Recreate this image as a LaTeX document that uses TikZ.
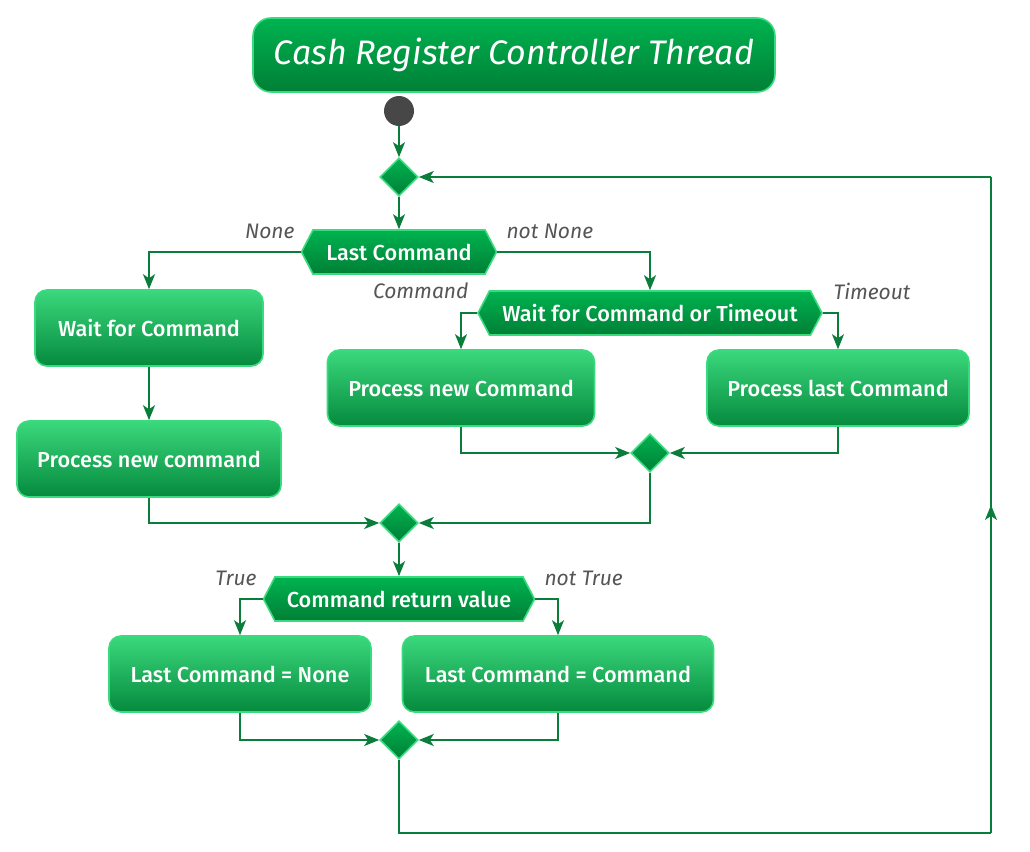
\documentclass[tikz,border=0pt]{standalone}
\usepackage{fontspec}
\setmainfont{Fira Sans}[BoldFont={Fira Sans Medium}]
\usetikzlibrary{shapes.geometric,shapes.symbols,arrows.meta,decorations.markings}
\definecolor{linegreen}{HTML}{0A7D3A}
\definecolor{rimgreen}{HTML}{3ADB7E}
\definecolor{boxtop}{HTML}{3BD87C}
\definecolor{boxbot}{HTML}{058A3E}
\definecolor{darktop}{HTML}{00B350}
\definecolor{darkbot}{HTML}{007F36}
\definecolor{guardgray}{HTML}{555555}
\begin{document}
\begin{tikzpicture}[
		x = 1pt, y = -1pt, % pixel grid of the reference
		> = {Stealth[length=15pt,width=12pt,inset=4pt]}, % arrow head style
		flow/.style = {draw=linegreen, line width=1.6pt},
		action/.style = {rectangle, rounded corners=12pt, draw=rimgreen, line width=1.6pt,
			top color=boxtop, bottom color=boxbot, text=white,
			font=\fontsize{21.7}{24}\selectfont\bfseries, minimum height=76pt},
		choice/.style = {signal, signal to=west and east, signal pointer angle=125,
			draw=rimgreen, line width=1.6pt, top color=darktop, bottom color=darkbot,
			text=white, font=\fontsize{21.7}{24}\selectfont\bfseries, minimum height=44pt, inner sep=0pt},
		merge/.style = {diamond, draw=rimgreen, line width=1.6pt, top color=darktop,
			bottom color=darkbot, minimum width=38pt, minimum height=38pt, inner sep=0pt},
		guard/.style = {text=guardgray, font=\fontsize{21}{24}\selectfont\itshape}
		]
		
		\useasboundingbox (0,0) rectangle (1030,851);
		
		% title
		\node[rectangle, rounded corners=18pt, draw=rimgreen, line width=1.6pt,
			top color=darktop, bottom color=darkbot, text=white,
			font=\fontsize{34}{38}\selectfont\itshape,
			minimum width=522pt, minimum height=74pt] (title) at (514,55) {Cash Register Controller Thread};
		
		% nodes
		\node[circle, fill=black!72, minimum size=30pt, inner sep=0pt] (start) at (399,111) {};
		\node[merge] (m1) at (399,177) {};
		\node[choice, minimum width=195pt] (lastcmd) at (399,252) {Last Command};
		\node[action, minimum width=228pt] (waitcmd) at (149,328) {Wait for Command};
		\node[action, minimum width=264pt] (procnew) at (149,459) {Process new command};
		\node[choice, minimum width=344pt] (waitto) at (650,313) {Wait for Command or Timeout};
		\node[action, minimum width=267pt] (procnewc) at (461,388) {Process new Command};
		\node[action, minimum width=262pt] (proclast) at (838,388) {Process last Command};
		\node[merge] (m2) at (650,453) {};
		\node[merge] (m3) at (399,523) {};
		\node[choice, minimum width=271pt] (retval) at (399,599) {Command return value};
		\node[action, minimum width=262pt] (setnone) at (240,674) {Last Command = None};
		\node[action, minimum width=311pt] (setcmd) at (558,674) {Last Command = Command};
		\node[merge] (m4) at (399,740) {};
		
		% guards
		\node[guard, anchor=east] (gnone) at (298,231) {None};
		\node[guard, anchor=west] (gnotnone) at (503,231) {not None};
		\node[guard, anchor=east] (gcmd) at (472,291) {Command};
		\node[guard, anchor=west] (gtimeout) at (830,291) {Timeout};
		\node[guard, anchor=east] (gtrue) at (260,578) {True};
		\node[guard, anchor=west] (gnottrue) at (541,578) {not True};
		
		% loop corners
		\coordinate (loopa) at (399,833);
		\coordinate (loopb) at (991,833);
		\coordinate (loopc) at (991,177);
		
		\draw[flow, ->] (start) -- (m1);
		\draw[flow, ->] (m1) -- (lastcmd);
		\draw[flow, ->] (lastcmd.west) -| (waitcmd.north);
		\draw[flow, ->] (waitcmd) -- (procnew);
		\draw[flow, ->] (lastcmd.east) -| (waitto.north);
		\draw[flow, ->] (waitto.west) -| (procnewc.north);
		\draw[flow, ->] (waitto.east) -| (proclast.north);
		\draw[flow, ->] (procnewc.south) |- (m2.west);
		\draw[flow, ->] (proclast.south) |- (m2.east);
		\draw[flow, ->] (procnew.south) |- (m3.west);
		\draw[flow, ->] (m2.south) |- (m3.east);
		\draw[flow, ->] (m3) -- (retval);
		\draw[flow, ->] (retval.west) -| (setnone.north);
		\draw[flow, ->] (retval.east) -| (setcmd.north);
		\draw[flow, ->] (setnone.south) |- (m4.west);
		\draw[flow, ->] (setcmd.south) |- (m4.east);
		\draw[flow] (m4.south) -- (loopa) -- (loopb);
		\draw[flow, postaction={decorate}, decoration={markings, mark=at position 0.5 with {\arrow{>}}}]
			(loopb) -- (loopc);
		\draw[flow, ->] (loopc) -- (m1.east);
		
	\end{tikzpicture}
\end{document}
